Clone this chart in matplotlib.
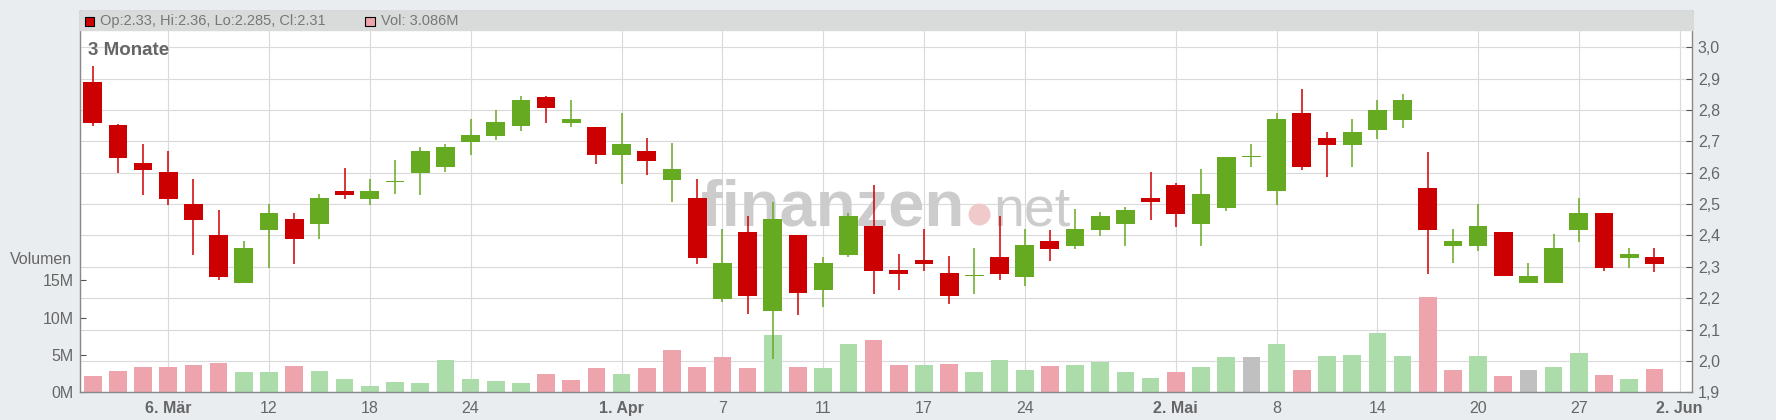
import numpy as np
import pandas as pd
import matplotlib
matplotlib.use("Agg")
import matplotlib.pyplot as plt
from matplotlib.patches import Rectangle
from matplotlib.ticker import FuncFormatter

plt.rcParams['font.family'] = ['Liberation Sans', 'DejaVu Sans']

# 3 Monate, Tageskerzen (US-Handelstage 3. Mär - 30. Mai 2025)
days = pd.bdate_range("2025-03-03", "2025-05-30")
days = days.drop(pd.to_datetime(["2025-04-18", "2025-05-26"]))

opens = [2.889, 2.752, 2.631, 2.603, 2.500, 2.402, 2.250, 2.419, 2.453, 2.438,
         2.542, 2.517, 2.570, 2.600, 2.620, 2.699, 2.718, 2.750, 2.841, 2.760,
         2.746, 2.658, 2.669, 2.578, 2.520, 2.199, 2.411, 2.160, 2.402, 2.227,
         2.339, 2.430, 2.290, 2.322, 2.280, 2.270, 2.332, 2.269, 2.383, 2.368,
         2.419, 2.438, 2.520, 2.561, 2.438, 2.489, 2.650, 2.543, 2.791, 2.711,
         2.690, 2.737, 2.769, 2.551, 2.368, 2.368, 2.411, 2.250, 2.250, 2.419,
         2.472, 2.329, 2.330]
highs = [2.940, 2.756, 2.692, 2.669, 2.580, 2.481, 2.383, 2.500, 2.472, 2.532,
         2.615, 2.580, 2.641, 2.682, 2.692, 2.772, 2.800, 2.845, 2.845, 2.832,
         2.746, 2.791, 2.711, 2.695, 2.580, 2.421, 2.462, 2.507, 2.402, 2.332,
         2.472, 2.561, 2.341, 2.421, 2.335, 2.360, 2.462, 2.421, 2.418, 2.485,
         2.475, 2.491, 2.603, 2.567, 2.612, 2.650, 2.692, 2.791, 2.867, 2.730,
         2.772, 2.832, 2.851, 2.666, 2.421, 2.500, 2.411, 2.312, 2.405, 2.520,
         2.472, 2.360, 2.360]
lows = [2.749, 2.600, 2.529, 2.497, 2.338, 2.259, 2.250, 2.297, 2.309, 2.390,
        2.517, 2.497, 2.533, 2.529, 2.604, 2.657, 2.706, 2.734, 2.760, 2.747,
        2.629, 2.565, 2.594, 2.508, 2.310, 2.189, 2.151, 2.006, 2.148, 2.173,
        2.333, 2.215, 2.227, 2.288, 2.180, 2.215, 2.259, 2.240, 2.320, 2.358,
        2.400, 2.368, 2.449, 2.428, 2.368, 2.479, 2.620, 2.498, 2.610, 2.588,
        2.620, 2.709, 2.744, 2.278, 2.313, 2.349, 2.270, 2.250, 2.250, 2.380,
        2.288, 2.297, 2.285]
closes = [2.760, 2.648, 2.610, 2.517, 2.451, 2.269, 2.360, 2.472, 2.390, 2.520,
          2.530, 2.542, 2.570, 2.669, 2.682, 2.720, 2.762, 2.832, 2.808, 2.772,
          2.658, 2.692, 2.639, 2.612, 2.329, 2.312, 2.208, 2.453, 2.218, 2.312,
          2.462, 2.288, 2.278, 2.310, 2.208, 2.270, 2.278, 2.370, 2.358, 2.421,
          2.462, 2.481, 2.508, 2.470, 2.532, 2.650, 2.650, 2.772, 2.620, 2.690,
          2.730, 2.800, 2.832, 2.419, 2.383, 2.430, 2.270, 2.270, 2.360, 2.472,
          2.297, 2.341, 2.310]
# Volumen in Mio. Stueck
volumes = [2.19, 2.86, 3.39, 3.39, 3.66, 3.93, 2.72, 2.72, 3.53, 2.86,
           1.79, 0.85, 1.38, 1.25, 4.33, 1.79, 1.52, 1.25, 2.46, 1.65,
           3.26, 2.46, 3.26, 5.67, 3.39, 4.73, 3.26, 7.68, 3.39, 3.26,
           6.47, 7.01, 3.66, 3.66, 3.79, 2.72, 4.33, 2.99, 3.53, 3.66,
           4.06, 2.72, 1.92, 2.72, 3.39, 4.73, 4.73, 6.47, 2.99, 4.87,
           5.00, 7.95, 4.87, 12.77, 2.99, 4.87, 2.19, 2.99, 3.39, 5.27,
           2.32, 1.79, 3.086]

tick_dates = ["2025-03-06", "2025-03-12", "2025-03-18", "2025-03-24", "2025-04-01",
              "2025-04-07", "2025-04-11", "2025-04-17", "2025-04-24", "2025-05-02",
              "2025-05-08", "2025-05-14", "2025-05-20", "2025-05-27", "2025-06-02"]
tick_labels = ["6. Mär", "12", "18", "24", "1. Apr", "7", "11", "17", "24",
               "2. Mai", "8", "14", "20", "27", "2. Jun"]
price_ticks = [1.9, 2.0, 2.1, 2.2, 2.3, 2.4, 2.5, 2.6, 2.7, 2.8, 2.9, 3.0]
vol_ticks = [0, 5, 10, 15]

o = np.array(opens); h = np.array(highs); l = np.array(lows)
c = np.array(closes); v = np.array(volumes)
x = np.arange(len(days))
tick_pos = days.searchsorted(pd.to_datetime(tick_dates))

RED, GREEN = "#cc0000", "#66aa22"
VRED, VGREEN, VGRAY = "#eea4ac", "#abdcaa", "#c0c0c0"
TXT = "#666666"

up = c >= o
ccol = np.where(up, GREEN, RED)
chg = np.sign(np.round(np.diff(c), 3))
vcol = [VRED] + [VGREEN if d > 0 else (VRED if d < 0 else VGRAY) for d in chg]

W, H = 1776, 420
L, R, T, B = 79.6, 1692.2, 11.3, 392.3
fig = plt.figure(figsize=(W / 100, H / 100), dpi=100, facecolor="#e9edf0")
rect = [L / W, (H - B) / H, (R - L) / W, (B - T) / H]
price_lim = (1.9, 1.9 + (B - T) / 313.6)   # 31.36 px je 0,1
vol_lim = (0, (B - T) / 7.467)             # 7.467 px je 1 Mio

def fx(px):
    return (px - L) / (R - L)

def fy(py):
    return (B - py) / (B - T)

ax = fig.add_axes(rect)      # Gitter, Wasserzeichen, Kursachse
axv = ax.twinx()             # Volumen
axc = ax.twinx()             # Kerzen

# Hintergrund: Gitter + Wasserzeichen
ax.set_facecolor("white")
for p in price_ticks:
    ax.axhline(p, color="#dadada", lw=0.8, zorder=1)
for t in tick_pos:
    ax.axvline(t, color="#dadada", lw=0.8, zorder=1)
ax.text(fx(701), fy(225), "finanzen", transform=ax.transAxes, fontsize=47,
        fontweight="bold", color="#cccccc", va="baseline", ha="left", zorder=2)
ax.scatter([fx(979)], [fy(214)], transform=ax.transAxes, s=250,
           color="#f0c9cb", zorder=2, linewidths=0)
ax.text(fx(993), fy(225), "net", transform=ax.transAxes, fontsize=40,
        color="#cccccc", va="baseline", ha="left", zorder=2)
ax.yaxis.tick_right()
ax.set_yticks(price_ticks)
ax.yaxis.set_major_formatter(FuncFormatter(lambda y, _: f"{y:.1f}".replace(".", ",")))
ax.tick_params(axis="y", direction="in", length=4, width=0.8, color="#555555",
               labelsize=11.5, labelcolor=TXT, pad=4)
ax.set_xticks(tick_pos)
ax.set_xticklabels(tick_labels)
for lab, txt in zip(ax.get_xticklabels(), tick_labels):
    if "." in txt:
        lab.set_fontweight("bold")
ax.tick_params(axis="x", length=0, labelsize=11.5, labelcolor=TXT, pad=6)
ax.set_xlim(-0.52, 63.5)
ax.set_ylim(price_lim)

# Volumen
axv.bar(x, v, width=0.70, color=vcol, zorder=2)
axv.yaxis.tick_left()
axv.set_yticks(vol_ticks)
axv.yaxis.set_major_formatter(FuncFormatter(lambda y, _: f"{y:.0f}M"))
axv.tick_params(axis="y", direction="in", length=4, width=0.8, color="#555555",
                labelsize=11.5, labelcolor=TXT, pad=4)
axv.set_ylim(vol_lim)

# Kerzen
axc.vlines(x, l, h, colors=ccol, lw=1.1, zorder=2)
body = np.maximum(np.abs(c - o), 0.005)
axc.bar(x, body, bottom=np.minimum(o, c), width=0.745, color=ccol, zorder=3)
axc.set_yticks([])
axc.set_ylim(price_lim)

for a in (ax, axv):
    for s in a.spines.values():
        s.set_visible(False)
for s in axc.spines.values():
    s.set_color("#888888")
    s.set_linewidth(1.0)

# Kopfzeile
axc.add_patch(Rectangle((0, fy(30)), 1, 1 - fy(30), transform=axc.transAxes,
                        color="#d9dbda", zorder=10, clip_on=False))
axc.add_patch(Rectangle((fx(84.6), fy(26.5)), fx(94.3) - fx(84.6), fy(16.8) - fy(26.5),
                        transform=axc.transAxes, facecolor=RED, edgecolor="black",
                        lw=0.8, zorder=11))
axc.text(fx(100), fy(21.5), f"Op:{opens[-1]:.2f}, Hi:{highs[-1]:.2f}, Lo:{lows[-1]:.3f}, Cl:{closes[-1]:.2f}",
         transform=axc.transAxes, fontsize=10.5, color="#777777", va="center", ha="left", zorder=11)
axc.add_patch(Rectangle((fx(365.5), fy(26.5)), fx(375.5) - fx(365.5), fy(16.8) - fy(26.5),
                        transform=axc.transAxes, facecolor=VRED, edgecolor="black",
                        lw=0.8, zorder=11))
axc.text(fx(381), fy(21.5), f"Vol: {volumes[-1]:.3f}M", transform=axc.transAxes,
         fontsize=10.5, color="#777777", va="center", ha="left", zorder=11)

axc.text(fx(88), fy(51), "3 Monate", transform=axc.transAxes, fontsize=13.5,
         fontweight="bold", color=TXT, va="center", ha="left", zorder=11)
fig.text(72 / W, (H - 259.5) / H, "Volumen", fontsize=11.5, color=TXT,
         ha="right", va="center")

fig.savefig("out.png", dpi=100, facecolor=fig.get_facecolor())
